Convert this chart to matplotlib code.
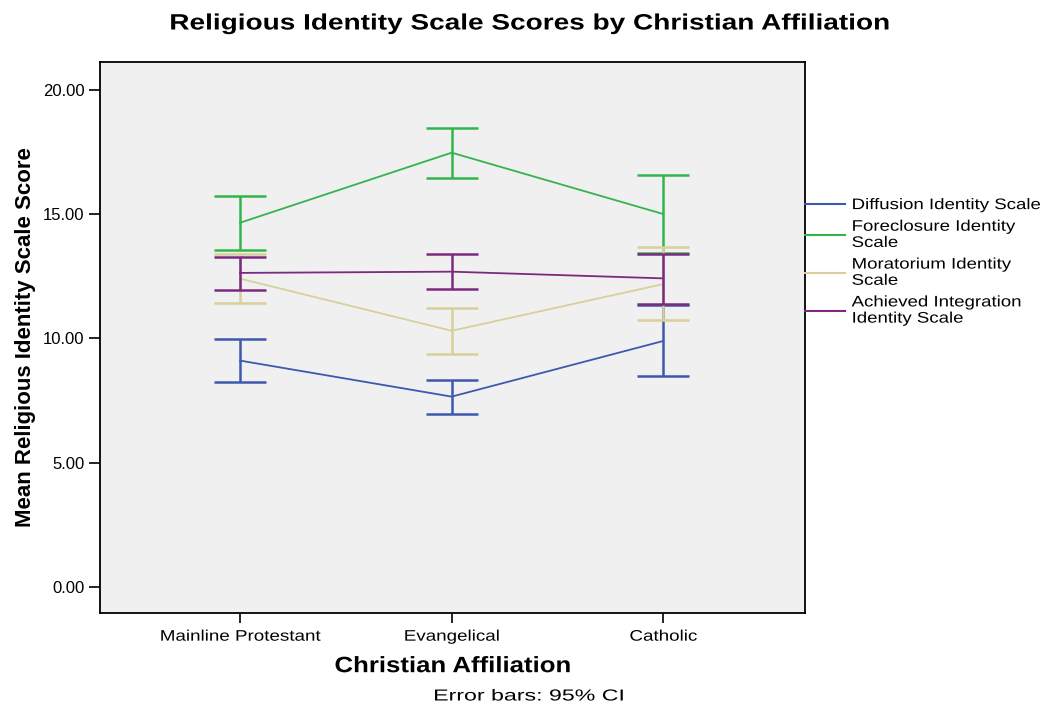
import matplotlib.pyplot as plt
import matplotlib.ticker as mtick
from matplotlib.lines import Line2D
from matplotlib.patheffects import AbstractPathEffect
from matplotlib.transforms import Affine2D

plt.rcParams['font.family'] = ['Liberation Sans', 'DejaVu Sans']


class Widen(AbstractPathEffect):
    """Draw text glyphs stretched horizontally about a left/center/right anchor."""

    def __init__(self, sx, anchor='center'):
        super().__init__()
        self.sx = sx
        self.anchor = anchor

    def draw_path(self, renderer, gc, tpath, affine, rgbFace=None):
        pts = affine.transform(tpath.vertices)
        if len(pts) == 0:
            return
        x0, x1 = pts[:, 0].min(), pts[:, 0].max()
        a = {'left': x0, 'right': x1, 'center': (x0 + x1) / 2}[self.anchor]
        t = affine + Affine2D().translate(-a, 0).scale(self.sx, 1).translate(a, 0)
        renderer.draw_path(gc, tpath, t, rgbFace)


groups = ["Mainline Protestant", "Evangelical", "Catholic"]
scales = ["Diffusion Identity Scale", "Foreclosure Identity\nScale",
          "Moratorium Identity\nScale", "Achieved Integration\nIdentity Scale"]
colors = ["#3e58ae", "#33b54b", "#d8d09c", "#7b2a7f"]

# means and 95% CI bounds per scale, one value per group
means = [
    [9.11, 7.66, 9.90],
    [14.66, 17.48, 15.01],
    [12.41, 10.31, 12.19],
    [12.64, 12.69, 12.42],
]
ci_low = [
    [8.25, 6.96, 8.49],
    [13.56, 16.46, 13.45],
    [11.43, 9.38, 10.73],
    [11.97, 11.99, 11.39],
]
ci_high = [
    [9.98, 8.33, 11.34],
    [15.75, 18.48, 16.57],
    [13.40, 11.24, 13.68],
    [13.29, 13.40, 13.42],
]

fig = plt.figure(figsize=(10.47, 7.06), dpi=100)
ax = fig.add_axes([100/1047, 1-613/706, 705/1047, 551/706])
ax.set_facecolor("#f0f0f0")

x = range(len(groups))
handles = []
for m, lo, hi, c, name in zip(means, ci_low, ci_high, colors, scales):
    ax.plot(x, m, color=c, lw=1.3, zorder=3)
    yerr = [[mi - l for mi, l in zip(m, lo)], [h - mi for mi, h in zip(m, hi)]]
    ax.errorbar(x, m, yerr=yerr, fmt='none', ecolor=c, elinewidth=1.8,
                capsize=19, capthick=1.8, zorder=3)
    handles.append(Line2D([], [], color=c, lw=1.5, label=name))

ax.set_xlim(-0.662, 2.67)
ax.set_ylim(-1.05, 21.13)
ax.set_xticks(list(x))
ax.set_xticklabels(groups, fontsize=11)
ax.set_yticks([0, 5, 10, 15, 20])
ax.yaxis.set_major_formatter(mtick.FormatStrFormatter('%.2f'))
ax.tick_params(axis='y', labelsize=12, length=8, width=1.2, pad=3)
ax.tick_params(axis='x', length=7, width=1.2, pad=5)
for s in ax.spines.values():
    s.set_linewidth(1.3)
for t in ax.get_xticklabels():
    t.set_path_effects([Widen(1.23)])

xl = ax.set_xlabel("Christian Affiliation", fontsize=16, fontweight='bold', labelpad=9)
xl.set_path_effects([Widen(1.16)])
ax.set_ylabel("Mean Religious Identity Scale Score", fontsize=16, fontweight='bold',
              labelpad=5)
title = fig.text(529/1047, 1-24/706,
                 "Religious Identity Scale Scores by Christian Affiliation",
                 ha='center', va='center', fontsize=16, fontweight='bold')
title.set_path_effects([Widen(1.26)])
note = fig.text(529/1047, 1-696/706, "Error bars: 95% CI", ha='center',
                va='center', fontsize=11.5)
note.set_path_effects([Widen(1.45)])

leg = ax.legend(handles=handles, loc='upper left', bbox_to_anchor=(1.0, 0.753),
                frameon=False, fontsize=11, handlelength=2.6, handletextpad=0.45,
                borderaxespad=0, borderpad=0, labelspacing=0.5)
for t in leg.get_texts():
    t.set_path_effects([Widen(1.22, 'left')])

fig.savefig("out.png", dpi=100)
